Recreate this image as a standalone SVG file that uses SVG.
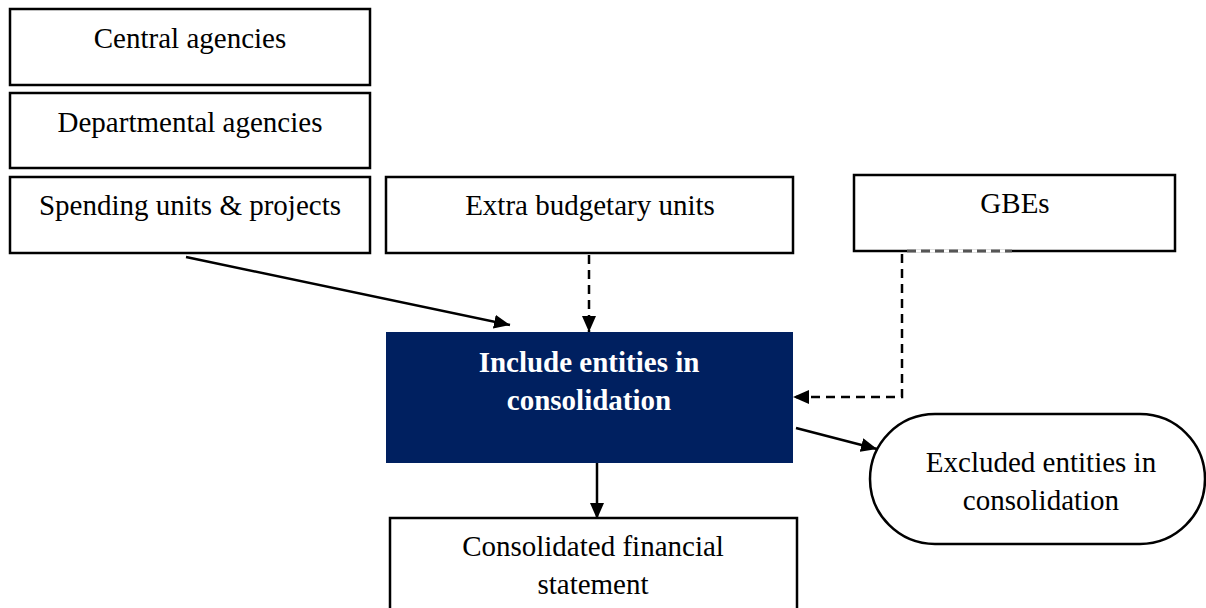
<svg xmlns="http://www.w3.org/2000/svg" width="1206" height="608" viewBox="0 0 1206 608">
  <style>
    .box { fill: #ffffff; stroke: #000000; stroke-width: 2.5; }
    .lbl { font-family: "Liberation Serif", "Times New Roman", serif; font-size: 29px; fill: #000000; text-anchor: middle; }
    .hl { fill: #002060; }
    .hl-lbl { font-family: "Liberation Serif", "Times New Roman", serif; font-size: 29px; font-weight: bold; fill: #ffffff; text-anchor: middle; }
    .edge { fill: none; stroke: #000000; stroke-width: 2.5; }
    .dash { stroke-dasharray: 9 6; }
  </style>
  <defs>
    <marker id="arrow" viewBox="0 0 16 14" refX="16" refY="7" markerWidth="16" markerHeight="14" markerUnits="userSpaceOnUse" orient="auto">
      <path d="M0,0 L16,7 L0,14 Z" fill="#000000"/>
    </marker>
  </defs>

  <rect width="1206" height="608" fill="#ffffff"/>

  <g id="central-agencies">
    <rect class="box" x="10" y="9" width="360" height="76"/>
    <text class="lbl" x="190" y="48">Central agencies</text>
  </g>

  <g id="departmental-agencies">
    <rect class="box" x="10" y="93" width="360" height="75"/>
    <text class="lbl" x="190" y="132">Departmental agencies</text>
  </g>

  <g id="spending-units">
    <rect class="box" x="10" y="177" width="360" height="76"/>
    <text class="lbl" x="190" y="215">Spending units &amp; projects</text>
  </g>

  <g id="extra-budgetary">
    <rect class="box" x="386" y="177" width="407" height="76"/>
    <text class="lbl" x="590" y="215">Extra budgetary units</text>
  </g>

  <g id="gbes">
    <rect class="box" x="854" y="175" width="321" height="76"/>
    <!-- broken segment of the lower edge -->
    <line x1="907" y1="251" x2="1012" y2="251" stroke="#ffffff" stroke-width="3"/>
    <line x1="907" y1="251" x2="1012" y2="251" stroke="#555555" stroke-width="3" stroke-dasharray="9 5"/>
    <text class="lbl" x="1015" y="213">GBEs</text>
  </g>

  <g id="include-entities">
    <rect class="hl" x="386" y="332" width="407" height="131"/>
    <text class="hl-lbl" x="589" y="372">Include entities in</text>
    <text class="hl-lbl" x="589" y="410">consolidation</text>
  </g>

  <g id="consolidated-statement">
    <rect class="box" x="390" y="518" width="407" height="100"/>
    <text class="lbl" x="593" y="556">Consolidated financial</text>
    <text class="lbl" x="593" y="594">statement</text>
  </g>

  <g id="excluded-entities">
    <rect class="box" x="870" y="414" width="335" height="130" rx="65" ry="65"/>
    <text class="lbl" x="1041" y="472">Excluded entities in</text>
    <text class="lbl" x="1041" y="510">consolidation</text>
  </g>

  <g id="connectors">
    <line class="edge" x1="186" y1="257" x2="510" y2="325" marker-end="url(#arrow)"/>
    <line class="edge dash" x1="589" y1="255" x2="589" y2="332" marker-end="url(#arrow)"/>
    <polyline class="edge dash" points="902,254 902,397 793,397" marker-end="url(#arrow)"/>
    <line class="edge" x1="597" y1="463" x2="597" y2="519" marker-end="url(#arrow)"/>
    <line class="edge" x1="796" y1="428" x2="877" y2="449" marker-end="url(#arrow)"/>
  </g>
</svg>
